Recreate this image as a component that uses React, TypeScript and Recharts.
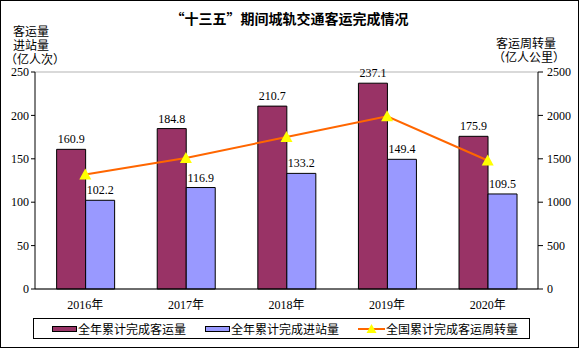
import {
  ComposedChart,
  Bar,
  Line,
  XAxis,
  YAxis,
  CartesianGrid,
  LabelList,
  Legend,
} from 'recharts';

const years = ['2016年', '2017年', '2018年', '2019年', '2020年'];
const passengerVolume = [160.9, 184.8, 210.7, 237.1, 175.9];
const stationEntries = [102.2, 116.9, 133.2, 149.4, 109.5];
const passengerTurnover = [1320, 1510, 1750, 1990, 1480];

const leftTicks = [0, 50, 100, 150, 200, 250];
const rightTicks = [0, 500, 1000, 1500, 2000, 2500];

const data = years.map((year, i) => ({
  year,
  volume: passengerVolume[i],
  entries: stationEntries[i],
  turnover: passengerTurnover[i],
}));

const serif = "'Liberation Serif', 'Times New Roman', 'Noto Sans CJK SC', serif";
const cjk = "'Noto Sans CJK SC', 'DejaVu Sans', sans-serif";

const tickStyle = { fill: '#000', fontSize: 12, fontFamily: serif };

const labelStyle = {
  position: 'absolute' as const,
  fontFamily: cjk,
  fontSize: 12,
  lineHeight: '14px',
  color: '#000',
  whiteSpace: 'nowrap' as const,
};

function Triangle(props: any) {
  const { cx, cy } = props;
  if (cx == null || cy == null) return null;
  return (
    <polygon
      points={`${cx},${cy - 6} ${cx - 6},${cy + 5} ${cx + 6},${cy + 5}`}
      fill="#FFFF00"
    />
  );
}

function LegendBox() {
  const item = { display: 'flex', alignItems: 'center', marginRight: 19, flexShrink: 0 };
  const text = { fontFamily: cjk, fontSize: 12, color: '#000', whiteSpace: 'nowrap' as const };
  const swatch = { display: 'inline-block', width: 25, height: 6, border: '1px solid #000', boxSizing: 'border-box' as const, marginRight: 1 };
  return (
    <div style={{ height: 30, paddingTop: 9, boxSizing: 'border-box' }}>
      <div
        style={{
          width: 497,
          height: 21,
          border: '1px solid #000',
          boxSizing: 'border-box',
          display: 'flex',
          alignItems: 'center',
          paddingLeft: 18,
          whiteSpace: 'nowrap',
        }}
      >
        <div style={item}>
          <span style={{ ...swatch, background: '#993366' }} />
          <span style={text}>全年累计完成客运量</span>
        </div>
        <div style={item}>
          <span style={{ ...swatch, background: '#9999FF' }} />
          <span style={text}>全年累计完成进站量</span>
        </div>
        <div style={item}>
          <svg width={27} height={12} style={{ marginRight: 1 }}>
            <line x1={0} y1={6} x2={27} y2={6} stroke="#FF6600" strokeWidth={2} />
            <polygon points="13.5,1 8.5,10 18.5,10" fill="#FFFF00" />
          </svg>
          <span style={text}>全国累计完成客运周转量</span>
        </div>
      </div>
    </div>
  );
}

export default function App() {
  return (
    <div
      style={{
        position: 'absolute',
        left: 0,
        top: 0,
        width: 579,
        height: 348,
        border: '1px solid #000',
        boxSizing: 'border-box',
        background: '#fff',
      }}
    >
      <div
        style={{
          ...labelStyle,
          left: 0,
          width: 577,
          top: 9,
          textAlign: 'center',
          fontWeight: 'bold',
          fontSize: 14,
          lineHeight: '16px',
        }}
      >
        “十三五”期间城轨交通客运完成情况
      </div>
      <div style={{ ...labelStyle, left: 4, top: 23 }}>
        <div style={{ paddingLeft: 8 }}>客运量</div>
        <div style={{ paddingLeft: 8 }}>进站量</div>
        <div>（亿人次）</div>
      </div>
      <div style={{ ...labelStyle, left: 492, top: 35 }}>
        <div style={{ paddingLeft: 3 }}>客运周转量</div>
        <div>（亿人公里）</div>
      </div>

      <ComposedChart
        width={577}
        height={346}
        data={data}
        margin={{ top: 71, right: 0, left: 0, bottom: 8 }}
        barGap={0}
        barCategoryGap="21.5%"
      >
        <CartesianGrid stroke="#b3b3b3" vertical={false} />
        <XAxis
          dataKey="year"
          height={20}
          tick={tickStyle}
          tickLine={false}
          tickMargin={5}
          axisLine={{ stroke: '#000' }}
        />
        <YAxis
          yAxisId="left"
          width={34}
          domain={[0, 250]}
          ticks={leftTicks}
          tick={tickStyle}
          tickSize={4}
          tickMargin={2}
          tickLine={{ stroke: '#000' }}
          axisLine={{ stroke: '#000' }}
        />
        <YAxis
          yAxisId="right"
          orientation="right"
          width={40}
          domain={[0, 2500]}
          ticks={rightTicks}
          tick={tickStyle}
          tickSize={5}
          tickMargin={4}
          tickLine={{ stroke: '#000' }}
          axisLine={{ stroke: '#000' }}
        />
        <Legend
          verticalAlign="bottom"
          content={() => <LegendBox />}
          wrapperStyle={{ left: 32, width: 497 }}
        />
        <Bar
          yAxisId="left"
          dataKey="volume"
          name="全年累计完成客运量"
          fill="#993366"
          stroke="#000"
          strokeWidth={1}
          isAnimationActive={false}
        >
          <LabelList dataKey="volume" position="top" offset={6} style={tickStyle} />
        </Bar>
        <Bar
          yAxisId="left"
          dataKey="entries"
          name="全年累计完成进站量"
          fill="#9999FF"
          stroke="#000"
          strokeWidth={1}
          isAnimationActive={false}
        >
          <LabelList dataKey="entries" position="top" offset={6} style={tickStyle} />
        </Bar>
        <Line
          yAxisId="right"
          dataKey="turnover"
          name="全国累计完成客运周转量"
          stroke="#FF6600"
          strokeWidth={2}
          dot={<Triangle />}
          activeDot={false}
          isAnimationActive={false}
        />
      </ComposedChart>
    </div>
  );
}
